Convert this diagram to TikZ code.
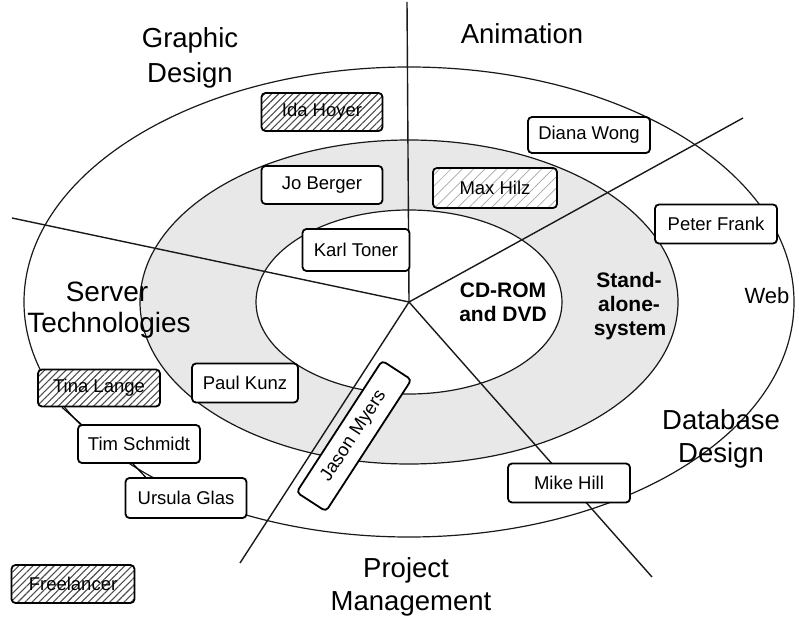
\documentclass[tikz,border=0pt]{standalone}
\usepackage{fontspec}
\setmainfont{Liberation Sans}
\usetikzlibrary{patterns.meta,calc}

\tikzset{
  ringline/.style={line width=1.2pt, black!90},
  ringfill/.style={fill=black!9},
  divider/.style={line width=1.4pt, black!90},
  link/.style={line width=1.2pt},
  person/.style={draw, line width=1.8pt, rounded corners=4pt, fill=white,
    minimum width=121pt, minimum height=38pt, inner sep=2pt,
    font=\fontsize{18.5}{22}\selectfont},
  hatched/.style={person, preaction={fill=white},
    pattern={Lines[angle=45,distance=5pt,line width=1.1pt]}, pattern color=black!70},
  lighthatch/.style={person, preaction={fill=white},
    pattern={Lines[angle=45,distance=8pt,line width=0.7pt]}, pattern color=black!35},
  area/.style={anchor=base, inner sep=0pt, font=\fontsize{27.5}{33}\selectfont},
  medium/.style={anchor=base, inner sep=0pt, font=\fontsize{21}{25}\selectfont\bfseries},
}

\begin{document}
\begin{tikzpicture}[x=1pt, y=-1pt]
  \useasboundingbox (0,0) rectangle (799,620);

  % centre of the three rings and end points of the sector borders
  \coordinate (C) at (409,302);
  \coordinate (nTop) at (407,2);
  \coordinate (nLeft) at (12,218);
  \coordinate (nUR) at (743,118);
  \coordinate (nBL) at (240,563);
  \coordinate (nBR) at (652,577);

  % shaded middle ring
  \fill[ringfill, even odd rule]
    (C) ellipse [x radius=269pt, y radius=162pt]
    (C) ellipse [x radius=153pt, y radius=92pt];

  % ring outlines
  \draw[ringline] (C) ellipse [x radius=385pt, y radius=235pt];
  \draw[ringline] (C) ellipse [x radius=269pt, y radius=162pt];
  \draw[ringline] (C) ellipse [x radius=153pt, y radius=92pt];

  % sector borders
  \draw[divider] (C) -- (nTop);
  \draw[divider] (C) -- (nLeft);
  \draw[divider] (C) -- (nUR);
  \draw[divider] (C) -- (nBL);
  \draw[divider] (C) -- (nBR);

  % people
  \node[hatched] (ida) at (322,112) {Ida Hoyer};
  \node[person] (jo) at (322,185) {Jo Berger};
  \node[person, minimum width=107pt, minimum height=42pt] (karl) at (356,250) {Karl Toner};
  \node[person, minimum width=122pt, minimum height=36pt] (diana) at (589,135) {Diana Wong};
  \node[lighthatch, minimum width=124pt, minimum height=40pt] (max) at (495,188) {Max Hilz};
  \node[person, minimum width=122pt, minimum height=39pt] (peter) at (716,224) {Peter Frank};
  \node[person, minimum width=106pt, minimum height=39pt] (paul) at (245,383) {Paul Kunz};
  \node[hatched, minimum width=122pt, minimum height=37pt] (tina) at (99,388) {Tina Lange};
  \node[person, minimum width=122pt] (tim) at (139,444) {Tim Schmidt};
  \node[person, minimum height=40pt] (urs) at (186,498) {Ursula Glas};
  \node[hatched, minimum width=123pt] (free) at (73,584) {Freelancer};
  \node[person, minimum width=122pt, minimum height=39pt] (mike) at (569,483) {Mike Hill};
  \node[person, minimum width=157pt, minimum height=35pt, rotate=57] (jason) at (354,436) {Jason Myers};

  % team links
  \draw[link] ($(tina.south west)+(25,0)$) -- ($(tim.north west)+(4,0)$);
  \draw[link] ($(tim.south)+(-6,0)$) -- ($(urs.north west)+(21,0)$);

  % field labels
  \node[area] (gd1) at (190,48) {Graphic};
  \node[area] (gd2) at (190,83) {Design};
  \node[area] (anim) at (522,44) {Animation};
  \node[area, font=\fontsize{28}{33}\selectfont] (st1) at (107,301) {Server};
  \node[area, font=\fontsize{28}{33}\selectfont] (st2) at (109,332) {Technologies};
  \node[area] (db1) at (721,429) {Database};
  \node[area] (db2) at (721,462) {Design};
  \node[area] (pm1) at (406,577) {Project};
  \node[area] (pm2) at (411,610) {Management};
  \node[anchor=base, inner sep=0pt, font=\fontsize{22}{26}\selectfont] (web) at (767,303) {Web};

  % media labels
  \node[medium] (cd1) at (503,297) {CD-ROM};
  \node[medium] (cd2) at (503,321) {and DVD};
  \node[medium] (sa1) at (629,287) {Stand-};
  \node[medium] (sa2) at (629,311) {alone-};
  \node[medium] (sa3) at (630,335) {system};
\end{tikzpicture}
\end{document}
